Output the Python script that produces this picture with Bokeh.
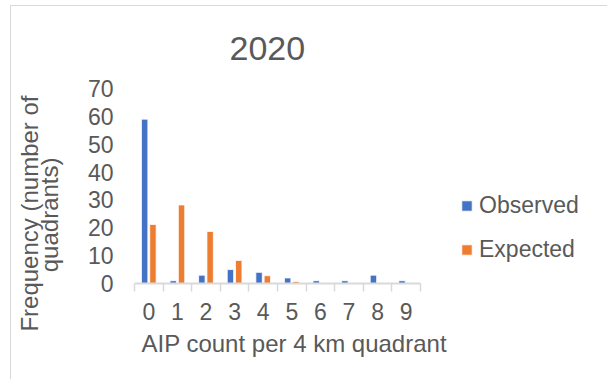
from bokeh.embed import file_html
from bokeh.models import (ColumnDataSource, FixedTicker, Legend, LegendItem,
                          Range1d, Title)
from bokeh.plotting import figure
from bokeh.resources import INLINE
from bokeh.transform import dodge

# AIP counts per 4 km quadrant, 2020
categories = ["0", "1", "2", "3", "4", "5", "6", "7", "8", "9"]
observed = [59, 1, 3, 5, 4, 2, 1, 1, 3, 1]
expected = [21.2, 28.2, 18.7, 8.3, 2.8, 0.7, 0.2, 0.0, 0.0, 0.0]
y_ticks = [0, 10, 20, 30, 40, 50, 60, 70]

TEXT = "#595959"
GRAY = "#D9D9D9"
BLUE = "#4472C4"
ORANGE = "#ED7D31"
FONT = "Liberation Sans"

W, H = 607, 379
# plot-area placement on the canvas (pixels): the category axis spans FL..FR,
# the frame continues to the right edge so the legend can sit inside it
FL, FR, FT, FB = 134, 420, 88, 283
n = len(categories)
x_end = -0.5 + n * (W - FL) / (FR - FL)

source = ColumnDataSource(dict(
    x=list(range(n)),
    observed=observed,
    expected=expected,
))

p = figure(width=W, height=H, output_backend="svg", toolbar_location=None,
           x_range=Range1d(-0.5, x_end),
           y_range=Range1d(y_ticks[0], y_ticks[-1]),
           min_border_left=FL, min_border_right=0,
           min_border_top=FT, min_border_bottom=H - FB)
p.outline_line_color = None
p.grid.visible = False
p.background_fill_color = "white"
p.border_fill_alpha = 0
# thin light-gray chart-area border (left and top edges) behind the canvas
p.styles = {
    "background": (
        f"linear-gradient({GRAY}, {GRAY}) 10px 5px / 1px calc(100% - 5px) no-repeat, "
        f"linear-gradient({GRAY}, {GRAY}) 10px 5px / calc(100% - 10px) 1px no-repeat, "
        "white"
    )
}

bar_w = 0.225
r_obs = p.vbar(x=dodge("x", -0.145, range=p.x_range), top="observed", width=bar_w,
               source=source, fill_color=BLUE, line_color="white", line_width=0.8)
r_exp = p.vbar(x=dodge("x", 0.145, range=p.x_range), top="expected", width=bar_w,
               source=source, fill_color=ORANGE, line_color="white", line_width=0.8)

# x axis: labels centred on categories, short marks at category boundaries
xa = p.xaxis[0]
xa.bounds = (-0.5, n - 0.5)
xa.ticker = FixedTicker(ticks=list(range(n)),
                        minor_ticks=[i - 0.5 for i in range(n + 1)])
xa.major_label_overrides = {i: c for i, c in enumerate(categories)}
xa.axis_line_color = GRAY
xa.axis_line_width = 2
xa.major_tick_line_color = None
xa.major_tick_out = 0
xa.major_tick_in = 0
xa.minor_tick_line_color = GRAY
xa.minor_tick_line_width = 1.5
xa.minor_tick_out = 8
xa.minor_tick_in = 0
xa.major_label_standoff = 11
xa.major_label_text_font = FONT
xa.major_label_text_font_size = "23px"
xa.major_label_text_color = TEXT

ya = p.yaxis[0]
ya.ticker = FixedTicker(ticks=y_ticks, minor_ticks=[])
ya.axis_line_color = None
ya.major_tick_line_color = None
ya.minor_tick_line_color = None
ya.major_tick_out = 0
ya.major_tick_in = 0
ya.major_label_standoff = 21
ya.major_label_text_font = FONT
ya.major_label_text_font_size = "23px"
ya.major_label_text_color = TEXT

def title(text, size, **kw):
    return Title(text=text, text_font=FONT, text_font_size=size,
                 text_font_style="normal", text_color=TEXT, **kw)

p.title = title("2020", "34px", align="left", offset=95,
                vertical_align="bottom", standoff=58)
p.add_layout(title("AIP count per 4 km quadrant", "24px", align="left", offset=7,
                   vertical_align="top", standoff=15), "below")
# two-line vertical axis title, inner line first
p.add_layout(title("quadrants)", "24px", align="right", offset=69,
                   vertical_align="bottom", standoff=43), "left")
p.add_layout(title("Frequency (number of", "24px", align="right", offset=7,
                   vertical_align="bottom", standoff=-60), "left")

legend = Legend(items=[LegendItem(label="Observed", renderers=[r_obs]),
                       LegendItem(label="Expected", renderers=[r_exp])],
                location=(326, 20), orientation="vertical",
                padding=0, margin=0, spacing=17,
                glyph_width=13, glyph_height=13, label_standoff=6,
                label_text_font=FONT, label_text_font_size="23px",
                label_text_color=TEXT, border_line_color=None,
                background_fill_alpha=0)
p.add_layout(legend, "center")

open("out.html", "w").write(file_html(p, INLINE))
